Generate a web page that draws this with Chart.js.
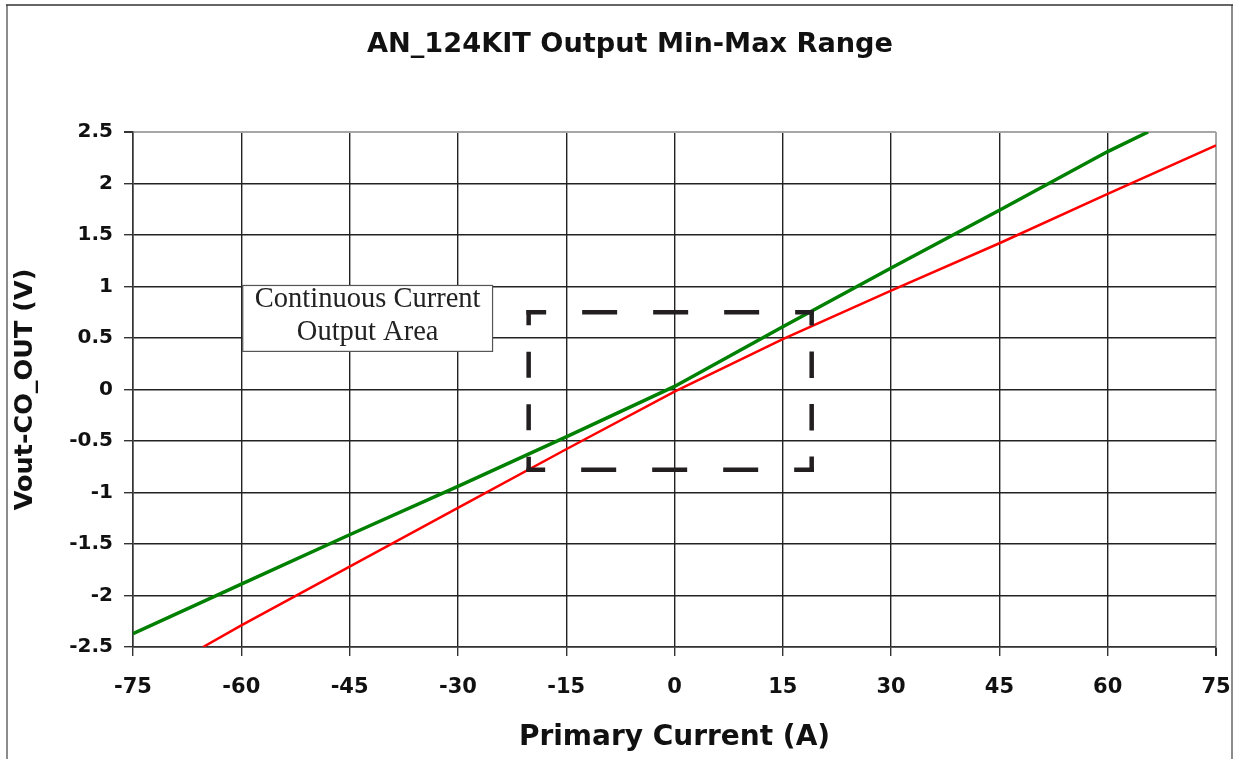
<!DOCTYPE html>
<html>
<head>
<meta charset="utf-8">
<script src="https://cdn.jsdelivr.net/npm/chart.js@4.4.0/dist/chart.umd.min.js"></script>
<style>
  body { margin: 0; background: #fff; }
  #wrap { width: 1237px; height: 759px; position: relative; }
</style>
</head>
<body>
<div id="wrap"><canvas id="grafico"></canvas></div>
<script>
// valores
const maxX = [-75, -60, -45, -30, -15, 0, 15, 30, 45, 60, 65.6];
const maxY = [-2.37, -1.89, -1.41, -0.94, -0.46, 0.03, 0.61, 1.18, 1.74, 2.31, 2.5];

const minX = [-65.3, -60, -45, -30, -15, 0, 15, 30, 45, 60, 75];
const minY = [-2.5, -2.29, -1.72, -1.15, -0.58, -0.02, 0.49, 0.96, 1.42, 1.90, 2.37];

// area tracejada (corrente continua)
const areaX = [-20.2, 19.0];
const areaY = [-0.78, 0.75];

// caixa de texto
const notaX = [-59.8, -25.2];
const notaY = [0.37, 1.01];
const notaTexto = ['Continuous Current', 'Output Area'];

const titulo = 'AN_124KIT Output Min-Max Range';
const tituloX = 'Primary Current (A)';
const tituloY = 'Vout-CO_OUT (V)';

function pontos(xs, ys) {
    return xs.map((x, i) => ({ x: x, y: ys[i] }));
}

const areaPontos = pontos(
    [areaX[0], areaX[1], areaX[1], areaX[0], areaX[0]],
    [areaY[1], areaY[1], areaY[0], areaY[0], areaY[1]]
);

const LW = 4.5;
function tracoSegmento(ctx) {
    // segmentos pares sao horizontais
    return ctx.p0DataIndex % 2 === 0 ? [35 - LW, 36 + LW] : [26 - LW, 26.5 + LW];
}
function offsetSegmento(ctx) {
    return ctx.p0DataIndex % 2 === 0 ? (35 - LW) / 2 : (26 - LW) / 2;
}

const enfeites = {
    id: 'enfeites',
    beforeDraw(chart) {
        const c = chart.ctx;
        c.save();
        c.lineWidth = 2;
        c.strokeStyle = '#8c8c8c';
        c.beginPath();
        c.moveTo(7, 5); c.lineTo(7, 759);
        c.moveTo(1232, 5); c.lineTo(1232, 759);
        c.stroke();
        c.lineWidth = 1.5;
        c.strokeStyle = '#333';
        c.beginPath();
        c.moveTo(6, 5); c.lineTo(1233, 5);
        c.stroke();

        c.fillStyle = '#111';
        c.font = 'bold 27.2px "DejaVu Sans"';
        c.textAlign = 'center';
        c.textBaseline = 'middle';
        c.fillText(titulo, 630, 45);
        c.restore();
    },
    afterDatasetsDraw(chart) {
        const c = chart.ctx;
        const sx = chart.scales.x, sy = chart.scales.y;
        const l = sx.getPixelForValue(notaX[0]), r = sx.getPixelForValue(notaX[1]);
        const t = sy.getPixelForValue(notaY[1]), b = sy.getPixelForValue(notaY[0]);
        c.save();
        c.fillStyle = '#fff';
        c.fillRect(l, t, r - l, b - t);
        c.strokeStyle = '#555';
        c.lineWidth = 1.2;
        c.strokeRect(l, t, r - l, b - t);
        c.fillStyle = '#222';
        c.font = '28.5px "Liberation Serif"';
        c.textAlign = 'center';
        c.textBaseline = 'alphabetic';
        c.fillText(notaTexto[0], (l + r) / 2, t + 22);
        c.fillText(notaTexto[1], (l + r) / 2, t + 55);
        c.restore();
    }
};

const config = {
    type: 'scatter',
    data: {
        datasets: [{
            label: 'area',
            data: areaPontos,
            showLine: true,
            borderColor: '#231f20',
            borderWidth: LW,
            borderCapStyle: 'square',
            pointRadius: 0,
            segment: {
                borderDash: tracoSegmento,
                borderDashOffset: offsetSegmento
            },
            order: 0
        }, {
            label: 'Max',
            data: pontos(maxX, maxY),
            showLine: true,
            borderColor: '#008000',
            borderWidth: 3.5,
            pointRadius: 0,
            order: 1
        }, {
            label: 'Min',
            data: pontos(minX, minY),
            showLine: true,
            borderColor: '#ff0000',
            borderWidth: 2.5,
            pointRadius: 0,
            order: 2
        }]
    },
    options: {
        responsive: true,
        maintainAspectRatio: false,
        animation: false,
        layout: { padding: { top: 132, right: 21, left: 0, bottom: 0 } },
        plugins: {
            legend: { display: false },
            tooltip: { enabled: false },
            title: { display: false }
        },
        scales: {
            x: {
                type: 'linear',
                min: -75,
                max: 75,
                ticks: {
                    stepSize: 15,
                    color: '#111',
                    font: { family: 'DejaVu Sans', weight: 'bold', size: 21 },
                    padding: 19
                },
                grid: {
                    color: ctx => ctx.tick && ctx.tick.value === 75 ? '#a6a6a6' : '#222',
                    lineWidth: ctx => ctx.tick && ctx.tick.value === 75 ? 2 : 1.4,
                    tickColor: '#333',
                    tickLength: 9
                },
                border: { color: '#333', width: 1.5 },
                title: {
                    display: true,
                    text: tituloX,
                    color: '#111',
                    font: { family: 'DejaVu Sans', weight: 'bold', size: 28 },
                    padding: { top: 0, bottom: 4 }
                },
                afterFit(scale) {
                    scale.height = 112;
                    scale.paddingLeft = 0;
                    scale.paddingRight = 0;
                }
            },
            y: {
                min: -2.5,
                max: 2.5,
                ticks: {
                    stepSize: 0.5,
                    color: '#111',
                    font: { family: 'DejaVu Sans', weight: 'bold', size: 20 },
                    padding: 11,
                    callback: v => String(v)
                },
                grid: {
                    color: ctx => ctx.tick && ctx.tick.value === 2.5 ? '#a6a6a6' : '#222',
                    lineWidth: ctx => ctx.tick && ctx.tick.value === 2.5 ? 2 : 1.4,
                    tickColor: '#333',
                    tickLength: 9
                },
                border: { color: '#333', width: 1.5 },
                title: {
                    display: true,
                    text: tituloY,
                    color: '#111',
                    font: { family: 'DejaVu Sans', weight: 'bold', size: 25.5 },
                    padding: { top: 10, bottom: 0 }
                },
                afterFit(scale) { scale.width = 133; }
            }
        }
    },
    plugins: [enfeites]
};

const grafico = new Chart(document.getElementById('grafico'), config);
</script>
</body>
</html>
